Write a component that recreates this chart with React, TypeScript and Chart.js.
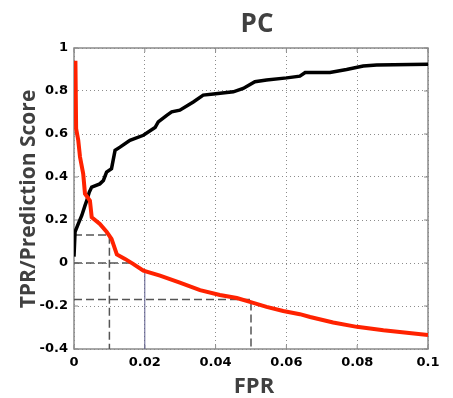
import React, { useEffect, useRef } from "react";
import { Chart, registerables } from "chart.js";

Chart.register(...registerables);

// TPR curve (black)
const tprFpr = [0, 0.0003, 0.0012, 0.0022, 0.0031, 0.0036, 0.0043, 0.005, 0.0073, 0.0083, 0.0092, 0.0106, 0.0116, 0.013, 0.0158, 0.0196, 0.0229, 0.0238, 0.0262, 0.0276, 0.0299, 0.0337, 0.0365, 0.0394, 0.045, 0.0478, 0.0511, 0.0544, 0.0601, 0.0638, 0.0653, 0.0723, 0.077, 0.0817, 0.0855, 0.1];
const tprValues = [0.03, 0.145, 0.182, 0.221, 0.267, 0.29, 0.329, 0.353, 0.368, 0.384, 0.423, 0.439, 0.524, 0.539, 0.571, 0.594, 0.63, 0.656, 0.687, 0.703, 0.711, 0.749, 0.781, 0.786, 0.796, 0.812, 0.843, 0.851, 0.861, 0.869, 0.886, 0.886, 0.9, 0.916, 0.921, 0.924];

// Prediction score curve (red)
const scoreFpr = [0.0004, 0.0006, 0.0012, 0.0017, 0.0026, 0.0031, 0.0045, 0.005, 0.0073, 0.0092, 0.0106, 0.0121, 0.0144, 0.0168, 0.0196, 0.0243, 0.0299, 0.0356, 0.0412, 0.046, 0.0497, 0.0544, 0.0591, 0.0638, 0.0667, 0.0732, 0.0799, 0.0874, 0.1];
const scoreValues = [0.941, 0.625, 0.571, 0.493, 0.415, 0.322, 0.29, 0.213, 0.182, 0.145, 0.112, 0.04, 0.019, -0.005, -0.036, -0.059, -0.091, -0.126, -0.149, -0.163, -0.181, -0.204, -0.223, -0.238, -0.251, -0.277, -0.297, -0.313, -0.335];

// Guide lines
const guideAX = [0, 0.01, 0.01];
const guideAY = [0.13, 0.13, -0.4];
const guideBX = [0, 0.0164];
const guideBY = [0, 0];
const guideCX = [0.02, 0.02];
const guideCY = [-0.4, -0.03];
const guideDX = [0, 0.05, 0.05];
const guideDY = [-0.17, -0.17, -0.4];

// Ticks
const xTickValues = [0, 0.02, 0.04, 0.06, 0.08, 0.1];
const xTickLabels = ["0", "0.02", "0.04", "0.06", "0.08", "0.1"];
const yTickValues = [-0.4, -0.2, 0, 0.2, 0.4, 0.6, 0.8, 1];
const yTickLabels = ["-0.4", "-0.2", "0", "0.2", "0.4", "0.6", "0.8", "1"];

const titleText = "PC";
const xTitle = "FPR";
const yTitle = "TPR/Prediction Score";

const pts = (xs: number[], ys: number[]) => xs.map((x, i) => ({ x, y: ys[i] }));

const FRAME = "#8a8a8a";
const TITLE_COLOR = "#404040";
const GRID = "#8c8c8c";

const decor = {
  id: "decor",
  beforeDatasetsDraw(chart: any) {
    const { ctx, chartArea: a, scales } = chart;
    ctx.save();
    ctx.strokeStyle = FRAME;
    ctx.lineWidth = 1.5;
    ctx.setLineDash([]);
    ctx.strokeRect(a.left, a.top, a.right - a.left, a.bottom - a.top);
    ctx.lineWidth = 1;
    const tl = 4;
    for (const v of xTickValues) {
      const px = scales.x.getPixelForValue(v);
      ctx.beginPath();
      ctx.moveTo(px, a.bottom);
      ctx.lineTo(px, a.bottom - tl);
      ctx.moveTo(px, a.top);
      ctx.lineTo(px, a.top + tl);
      ctx.stroke();
    }
    for (const v of yTickValues) {
      const py = scales.y.getPixelForValue(v);
      ctx.beginPath();
      ctx.moveTo(a.left, py);
      ctx.lineTo(a.left + tl, py);
      ctx.moveTo(a.right, py);
      ctx.lineTo(a.right - tl, py);
      ctx.stroke();
    }
    ctx.restore();
  },
  afterDraw(chart: any) {
    const { ctx } = chart;
    ctx.save();
    ctx.fillStyle = TITLE_COLOR;
    ctx.textAlign = "center";
    ctx.textBaseline = "alphabetic";
    ctx.font = "bold 26px 'Open Sans'";
    ctx.fillText(titleText, 257, 32);
    ctx.font = "bold 22px 'Open Sans'";
    ctx.fillText(xTitle, 254, 393);
    ctx.translate(35, 199);
    ctx.rotate(-Math.PI / 2);
    ctx.font = "bold 21px 'Open Sans'";
    ctx.fillText(yTitle, 0, 0);
    ctx.restore();
  },
};

export default function App() {
  const ref = useRef<HTMLCanvasElement | null>(null);
  useEffect(() => {
    document.body.style.margin = "0";
    const canvas = ref.current!;
    const guide = (xs: number[], ys: number[], color: string, width: number, dash: number[]) => ({
      data: pts(xs, ys),
      borderColor: color,
      borderWidth: width,
      borderDash: dash,
      pointRadius: 0,
      showLine: true,
      fill: false,
      tension: 0,
    });
    const chart = new Chart(canvas, {
      type: "scatter",
      data: {
        datasets: [
          {
            data: pts(scoreFpr, scoreValues),
            borderColor: "#ff2200",
            borderWidth: 4,
            pointRadius: 0,
            showLine: true,
            tension: 0,
          } as any,
          {
            data: pts(tprFpr, tprValues),
            borderColor: "#000000",
            borderWidth: 3.5,
            pointRadius: 0,
            showLine: true,
            tension: 0,
          } as any,
          guide(guideAX, guideAY, "#555555", 1.5, [8, 4]),
          guide(guideBX, guideBY, "#555555", 1.5, [8, 4]),
          guide(guideCX, guideCY, "#5c5c8c", 1, []),
          guide(guideDX, guideDY, "#555555", 1.5, [8, 4]),
        ],
      },
      options: {
        responsive: false,
        animation: false,
        events: [],
        layout: { padding: { left: 0, right: 25, top: 48, bottom: 0 } },
        plugins: {
          legend: { display: false },
          tooltip: { enabled: false },
          title: { display: false },
        },
        scales: {
          x: {
            type: "linear",
            min: 0,
            max: 0.1,
            afterFit: (s: any) => {
              s.height = 49;
            },
            afterBuildTicks: (s: any) => {
              s.ticks = xTickValues.map((v) => ({ value: v }));
            },
            ticks: {
              padding: 6,
              color: "#000",
              font: { family: "'DejaVu Sans'", size: 13, weight: "bold" },
              maxRotation: 0,
              autoSkip: false,
              callback: (_v: any, i: number) => xTickLabels[i],
            },
            grid: {
              drawTicks: false,
              color: GRID,
              lineWidth: 1,
            },
            border: { display: false, dash: [1, 3] },
          },
          y: {
            type: "linear",
            min: -0.4,
            max: 1,
            afterFit: (s: any) => {
              s.width = 74;
            },
            afterBuildTicks: (s: any) => {
              s.ticks = yTickValues.map((v) => ({ value: v }));
            },
            ticks: {
              padding: 6,
              color: "#000",
              font: { family: "'DejaVu Sans'", size: 13, weight: "bold" },
              autoSkip: false,
              callback: (_v: any, i: number) => yTickLabels[i],
            },
            grid: {
              drawTicks: false,
              color: GRID,
              lineWidth: 1,
            },
            border: { display: false, dash: [1, 3] },
          },
        },
      } as any,
      plugins: [decor],
    });
    return () => chart.destroy();
  }, []);
  return (
    <div style={{ position: "absolute", left: 0, top: 0, width: 453, height: 398, background: "#fff" }}>
      <canvas ref={ref} width={453} height={398} />
    </div>
  );
}
